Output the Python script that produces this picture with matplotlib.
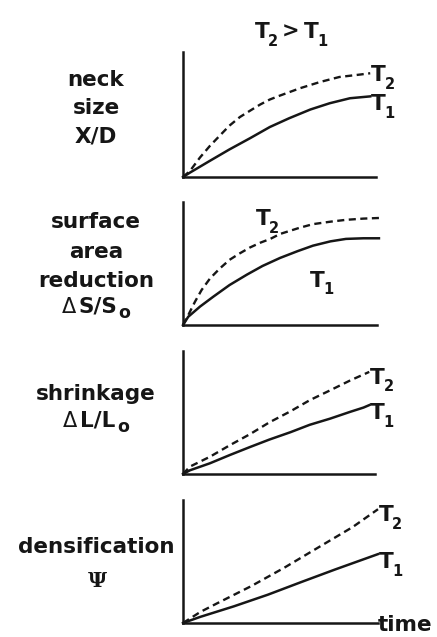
import matplotlib
matplotlib.use("Agg")
import matplotlib.pyplot as plt

plt.rcParams['font.family'] = ['DejaVu Sans']

# ---------------- data ----------------
title_runs = [('T', 0), ('2', 1), ('>', 0), ('T', 0), ('1', 1)]
series_names = [('T', '2'), ('T', '1')]

panel_labels = [
    ['neck', 'size', 'X/D'],
    ['surface', 'area', 'reduction', ('Δ', 'S/S', 'o')],
    ['shrinkage', ('Δ', 'L/L', 'o')],
    ['densification', 'Ψ'],
]
x_label = 'time'

# neck size X/D
neck_t_T2 = [0, 0.036, 0.088, 0.14, 0.19, 0.24, 0.295, 0.347, 0.40, 0.45, 0.50, 0.606, 0.71, 0.81, 0.92, 0.97]
neck_T2 = [0, 0.048, 0.156, 0.25, 0.33, 0.41, 0.48, 0.53, 0.58, 0.62, 0.65, 0.71, 0.76, 0.80, 0.82, 0.83]
neck_t_T1 = [0, 0.036, 0.14, 0.24, 0.347, 0.45, 0.55, 0.66, 0.76, 0.865, 0.97]
neck_T1 = [0, 0.035, 0.13, 0.22, 0.31, 0.40, 0.47, 0.54, 0.59, 0.63, 0.645]

# surface area reduction dS/So
surf_t_T2 = [0, 0.027, 0.062, 0.096, 0.14, 0.19, 0.24, 0.29, 0.345, 0.40, 0.45, 0.50, 0.60, 0.67, 0.76, 0.84, 0.93, 1.01]
surf_T2 = [0, 0.08, 0.19, 0.285, 0.38, 0.46, 0.53, 0.58, 0.63, 0.67, 0.70, 0.74, 0.79, 0.82, 0.84, 0.855, 0.865, 0.87]
surf_t_T1 = [0, 0.027, 0.088, 0.156, 0.24, 0.33, 0.41, 0.50, 0.59, 0.67, 0.76, 0.84, 0.93, 1.01]
surf_T1 = [0, 0.067, 0.15, 0.23, 0.325, 0.41, 0.48, 0.545, 0.60, 0.645, 0.68, 0.70, 0.705, 0.705]

# shrinkage dL/Lo
shr_t_T2 = [0, 0.036, 0.14, 0.245, 0.35, 0.45, 0.56, 0.66, 0.766, 0.87, 0.97]
shr_T2 = [0, 0.06, 0.14, 0.235, 0.325, 0.42, 0.51, 0.60, 0.68, 0.76, 0.83]
shr_t_T1 = [0, 0.036, 0.14, 0.245, 0.35, 0.45, 0.56, 0.66, 0.766, 0.87, 0.94, 0.97]
shr_T1 = [0, 0.03, 0.087, 0.155, 0.22, 0.28, 0.34, 0.40, 0.45, 0.505, 0.54, 0.56]

# densification Psi
dens_t_T2 = [0, 0.089, 0.175, 0.35, 0.52, 0.70, 0.87, 1.0]
dens_T2 = [0, 0.09, 0.16, 0.30, 0.45, 0.62, 0.78, 0.925]
dens_t_T1 = [0, 0.089, 0.26, 0.435, 0.61, 0.78, 1.0]
dens_T1 = [0, 0.05, 0.135, 0.23, 0.335, 0.435, 0.56]

panels = [
    (neck_t_T2, neck_T2, neck_t_T1, neck_T1),
    (surf_t_T2, surf_T2, surf_t_T1, surf_T1),
    (shr_t_T2, shr_T2, shr_t_T1, shr_T1),
    (dens_t_T2, dens_T2, dens_t_T1, dens_T1),
]

# ---------------- layout ----------------
W, H = 437, 637
fig = plt.figure(figsize=(W / 100, H / 100), dpi=100)
fig.patch.set_facecolor('white')
renderer = fig.canvas.get_renderer()

FS = 15.5
SUB = 10.5
INK = '#161616'
LW = 1.8


def fx(x):
    return x / W


def fy(y):
    return 1 - y / H


def compose(runs, x, y, ha='left'):
    """runs: list of (text, size, dy_px_down, gap_before_px, kwargs); y = baseline px from top."""
    objs = []
    for s, size, dy, gap, kw in runs:
        o = fig.text(0, 0, s, fontsize=size, va='baseline', ha='left', color=INK, **kw)
        objs.append((o, dy, gap))
    widths = [o.get_window_extent(renderer).width for o, _, _ in objs]
    total = sum(w + g for w, (_, _, g) in zip(widths, objs))
    cur = x - total / 2 if ha == 'center' else x
    for (o, dy, gap), w in zip(objs, widths):
        cur += gap
        o.set_position((fx(cur), fy(y + dy)))
        cur += w


BOLD = {'fontweight': 'bold'}


def series_runs(name):
    return [(name[0], FS, 0, 0, BOLD), (name[1], SUB, 7.5, -1.5, BOLD)]


# axes boxes in pixels: left, right, top, bottom
boxes = [
    (183, 376, 52, 177),
    (183, 377, 202, 325),
    (183, 375, 351, 474),
    (183, 378, 500, 623),
]
label_baselines = [
    [86, 114, 142],
    [228, 258, 287, 313],
    [400, 427],
    [553, 587],
]
label_cx = 96

for i, (box, data) in enumerate(zip(boxes, panels)):
    l, r, t, b = box
    ax = fig.add_axes([fx(l), fy(b), fx(r - l), (b - t) / H])
    ax.set_xlim(0, 1)
    ax.set_ylim(0, 1)
    for s in ['top', 'right']:
        ax.spines[s].set_visible(False)
    for s in ['left', 'bottom']:
        ax.spines[s].set_linewidth(LW)
        ax.spines[s].set_color(INK)
        ax.spines[s].set_capstyle('projecting')
    ax.set_xticks([])
    ax.set_yticks([])
    ax.patch.set_alpha(0)

    t2, v2, t1, v1 = data
    ax.plot(t2, v2, color=INK, lw=1.7, dashes=(3.0, 1.9), clip_on=False,
            dash_capstyle='butt')
    ax.plot(t1, v1, color=INK, lw=1.8, clip_on=False)

    def to_px(xd, yd):
        X, Y = ax.transData.transform((xd, yd))
        return X, H - Y

    if i == 1:
        x2, y2 = to_px(0.376, 0.81)
        compose(series_runs(series_names[0]), x2, y2)
        x1, y1 = to_px(0.655, 0.31)
        compose(series_runs(series_names[1]), x1, y1)
    else:
        off2 = 8 if i == 0 else 12
        x2, y2 = to_px(t2[-1], v2[-1])
        compose(series_runs(series_names[0]), x2 + 1, y2 + off2)
        x1, y1 = to_px(t1[-1], v1[-1])
        compose(series_runs(series_names[1]), x1 + 1, y1 + 14)

    for txt, yb in zip(panel_labels[i], label_baselines[i]):
        if isinstance(txt, tuple):
            runs = [(txt[0], 15, 0, 0, {}), (txt[1], FS, 0, 3, BOLD),
                    (txt[2], 12.5, 5, 1, BOLD)]
            compose(runs, label_cx, yb, ha='center')
        elif txt == 'Ψ':
            fig.text(fx(label_cx + 1), fy(yb), txt, fontsize=15, family='DejaVu Serif',
                     fontweight='bold', color=INK, ha='center', va='baseline')
        else:
            fig.text(fx(label_cx), fy(yb), txt, fontsize=FS, fontweight='bold',
                     color=INK, ha='center', va='baseline')

# title  T2 > T1
truns = []
for s, sub in title_runs:
    if sub:
        truns.append((s, SUB, 7.5, -1.5, BOLD))
    elif s == '>':
        truns.append((s, 15, 0, 4, BOLD))
    else:
        truns.append((s, FS, 0, 4 if truns else 0, BOLD))
compose(truns, 291, 38, ha='center')

fig.text(fx(378), fy(631), x_label, fontsize=FS, fontweight='bold',
         color=INK, ha='left', va='baseline')

fig.savefig('out.png', dpi=100, facecolor='white')
